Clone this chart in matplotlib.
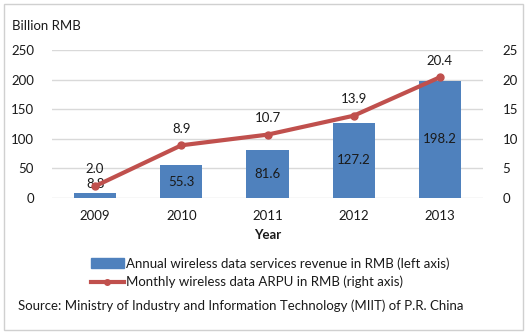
import matplotlib.pyplot as plt
from matplotlib.patches import Rectangle
from matplotlib.lines import Line2D

plt.rcParams['font.family'] = ['Lato', 'DejaVu Sans']

## Data
years = ["2009", "2010", "2011", "2012", "2013"]
revenue = [8.8, 55.3, 81.6, 127.2, 198.2]    # billion RMB, left axis
arpu = [2.0, 8.9, 10.7, 13.9, 20.4]          # RMB per month, right axis
left_ticks = [0, 50, 100, 150, 200, 250]
right_ticks = [0, 5, 10, 15, 20, 25]

bar_color = "#4f81bd"
line_color = "#c0504d"
grid_color = "#d9d9d9"
text_color = "#1a1a1a"
fs = 9.5

fig = plt.figure(figsize=(5.27, 3.34), dpi=100)

# light frame round the whole chart
fig.patches.append(Rectangle((0.008, 0.012), 0.984, 0.976, transform=fig.transFigure,
                             fill=False, edgecolor="#d0d0d0", linewidth=1.0))

ax = fig.add_axes([0.0987, 0.4072, 0.8178, 0.4431])
x = range(len(years))

bars = ax.bar(x, revenue, width=0.49, color=bar_color, zorder=2)
ax.set_ylim(0, 250)
ax.set_xlim(-0.5, len(years) - 0.5)
ax.set_yticks(left_ticks)
ax.set_xticks(list(x))
ax.set_xticklabels(years)
ax.grid(axis="y", color=grid_color, linewidth=1.0, zorder=0)
ax.set_axisbelow(True)
for s in ax.spines.values():
    s.set_visible(False)
ax.tick_params(length=0, labelsize=fs, colors=text_color)
ax.tick_params(axis="x", pad=9)
ax.tick_params(axis="y", pad=13)
ax.set_xlabel("Year", fontsize=fs, fontweight="bold", color=text_color, labelpad=5)

# bar value labels, centred in the bar (raised above very short bars)
for xi, v in zip(x, revenue):
    y = v / 2 if v > 20 else v + 14
    ax.text(xi, y, f"{v:.1f}", ha="center", va="center", fontsize=fs, color=text_color, zorder=5)

ax2 = ax.twinx()
ax2.plot(list(x), arpu, color=line_color, linewidth=3, marker="o", markersize=5, zorder=3)
ax2.set_ylim(0, 25)
ax2.set_yticks(right_ticks)
for s in ax2.spines.values():
    s.set_visible(False)
ax2.tick_params(axis="y", length=0, labelsize=fs, colors=text_color, pad=14)

for xi, v in zip(x, arpu):
    ax2.annotate(f"{v:.1f}", (xi, v), xytext=(0, 12), textcoords="offset points",
                 ha="center", va="center", fontsize=fs, color=text_color)

fig.text(0.022, 0.922, "Billion RMB", fontsize=fs, color=text_color, va="center")

# legend below the plot
fig.legend(handles=[Rectangle((0, 0), 1, 1, color=bar_color),
                    Line2D([], [], color=line_color, linewidth=3, marker="o", markersize=4)],
           labels=["Annual wireless data services revenue in RMB (left axis)",
                   "Monthly wireless data ARPU in RMB (right axis)"],
           loc="upper left", bbox_to_anchor=(0.162, 0.246), frameon=False, fontsize=fs,
           handlelength=2.5, handletextpad=0.2, labelspacing=0.45, borderaxespad=0,
           labelcolor=text_color)

fig.text(0.034, 0.084, "Source: Ministry of Industry and Information Technology (MIIT) of P.R. China",
         fontsize=fs, color=text_color, va="center")

plt.savefig("out.png", dpi=100)
